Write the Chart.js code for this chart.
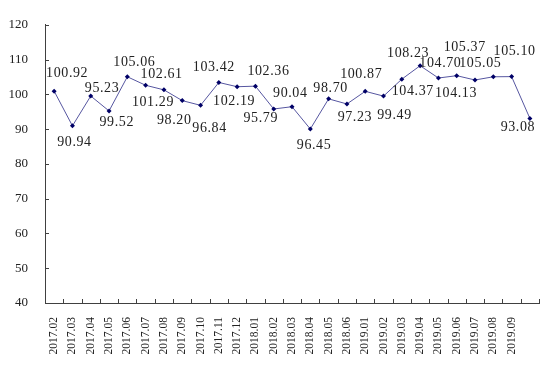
<!DOCTYPE html>
<html>
<head>
<meta charset="utf-8">
<script src="https://cdn.jsdelivr.net/npm/chart.js@4/dist/chart.umd.min.js"></script>
<style>
  body { margin: 0; background: #fff; }
  #wrap { width: 558px; height: 368px; }
</style>
</head>
<body>
<div id="wrap"><canvas id="c"></canvas></div>
<script>
// months on the x axis (last point has no label in the original)
const months = [
  '2017.02', '2017.03', '2017.04', '2017.05', '2017.06', '2017.07', '2017.08',
  '2017.09', '2017.10', '2017.11', '2017.12', '2018.01', '2018.02', '2018.03',
  '2018.04', '2018.05', '2018.06', '2019.01', '2019.02', '2019.03', '2019.04',
  '2019.05', '2019.06', '2019.07', '2019.08', '2019.09', ''
];
const values = [
  100.92, 90.94, 99.52, 95.23, 105.06, 102.61, 101.29, 98.20, 96.84, 103.42,
  102.19, 102.36, 95.79, 96.45, 90.04, 98.70, 97.23, 100.87, 99.49, 104.37,
  108.23, 104.70, 105.37, 104.13, 105.05, 105.10, 93.08
];
const yTicks = [40, 50, 60, 70, 80, 90, 100, 110, 120];

// where each value label sits relative to its point (px)
const labelOffsets = [
  [13, -18], [2, 16], [26, 26], [-7, -23], [7, -14], [16, -11], [-11, 12],
  [-8, 20], [9, 23], [-5, -15], [-3, 15], [13, -15], [-13, 9], [22, 39],
  [-20, -36], [2, -11], [8, 13], [-4, -17], [11, 19], [11, 12], [-12, -12],
  [2, -15], [8, -28], [-19, 13], [-13, -13], [3, -25], [-12, 9]
];

const axisColor = '#404040';
const textColor = '#222';

// inward tick marks on both axes
const innerTicks = {
  id: 'innerTicks',
  afterDraw(chart) {
    const ctx = chart.ctx;
    const x = chart.scales.x, y = chart.scales.y;
    ctx.save();
    ctx.strokeStyle = axisColor;
    ctx.lineWidth = 1;
    ctx.beginPath();
    yTicks.forEach(v => {
      const py = Math.round(y.getPixelForValue(v)) + 0.5;
      ctx.moveTo(x.left, py);
      ctx.lineTo(x.left + 4, py);
    });
    for (let i = 1; i <= months.length; i++) {
      const px = Math.round(x.getPixelForValue(i - 0.5)) + 0.5;
      ctx.moveTo(px, y.bottom);
      ctx.lineTo(px, y.bottom - 4);
    }
    ctx.stroke();
    ctx.restore();
  }
};

// value labels next to the points
const valueLabels = {
  id: 'valueLabels',
  afterDatasetsDraw(chart) {
    const ctx = chart.ctx;
    const meta = chart.getDatasetMeta(0);
    ctx.save();
    ctx.font = '14px "Liberation Serif", serif';
    ctx.letterSpacing = '0.6px';
    ctx.fillStyle = textColor;
    ctx.textAlign = 'center';
    ctx.textBaseline = 'middle';
    meta.data.forEach((pt, i) => {
      const off = labelOffsets[i];
      ctx.fillText(values[i].toFixed(2), pt.x + off[0], pt.y + off[1]);
    });
    ctx.restore();
  }
};

new Chart(document.getElementById('c'), {
  type: 'line',
  data: {
    labels: months,
    datasets: [{
      data: values,
      borderColor: '#5656a0',
      borderWidth: 1,
      backgroundColor: '#000066',
      pointBackgroundColor: '#000066',
      pointBorderColor: '#000066',
      pointStyle: 'rectRot',
      pointRadius: 2.5,
      pointBorderWidth: 0,
      tension: 0,
      fill: false
    }]
  },
  options: {
    responsive: true,
    maintainAspectRatio: false,
    animation: false,
    layout: { padding: { top: 12, right: 16, left: 0, bottom: 0 } },
    plugins: {
      legend: { display: false },
      tooltip: { enabled: false }
    },
    scales: {
      x: {
        offset: true,
        grid: { display: false, drawTicks: false },
        border: { display: true, color: axisColor, width: 1 },
        afterFit: s => { s.height = 65; },
        ticks: {
          autoSkip: false,
          minRotation: 90,
          maxRotation: 90,
          padding: 14,
          color: textColor,
          font: { family: '"Liberation Serif", serif', size: 11.5 }
        }
      },
      y: {
        min: 40,
        max: 120,
        grid: { display: false, drawTicks: false },
        border: { display: true, color: axisColor, width: 1 },
        afterFit: s => { s.width = 45; },
        afterBuildTicks: s => { s.ticks = yTicks.map(v => ({ value: v })); },
        ticks: {
          padding: 17,
          color: textColor,
          font: { family: '"Liberation Serif", serif', size: 13 }
        }
      }
    }
  },
  plugins: [innerTicks, valueLabels]
});
</script>
</body>
</html>
